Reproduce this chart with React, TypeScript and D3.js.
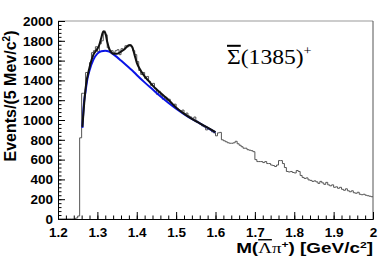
import { useEffect, useRef } from 'react'
import * as d3 from 'd3'

// histogram: 5 MeV bins from 1.200 to 2.000 GeV
const binStart = 1.2
const binWidth = 0.005
const counts = [
  0, 0, 0, 0, 0, 0, 0, 0, 0, // 1.200-1.240
  10, 30, 820, 1270, 1270, 1480, 1480, 1580, 1680, 1700, // 1.245-1.290
  1740, 1690, 1770, 1800, 1900, 1860, 1730, 1690, 1700, 1680, // 1.295-1.340
  1700, 1710, 1660, 1720, 1710, 1750, 1740, 1760, 1740, 1700, // 1.345-1.390
  1660, 1590, 1500, 1460, 1480, 1420, 1440, 1390, 1350, 1370, // 1.395-1.440
  1320, 1260, 1290, 1250, 1210, 1230, 1200, 1210, 1170, 1140, // 1.445-1.490
  1160, 1120, 1100, 1090, 1100, 1060, 1070, 1040, 1030, 1010, // 1.495-1.540
  1030, 990, 975, 965, 940, 930, 900, 910, 900, 880, // 1.545-1.590
  870, 840, 870, 875, 800, 790, 780, 770, 765, 765, // 1.595-1.640
  770, 785, 760, 745, 730, 715, 715, 700, 695, 690, // 1.645-1.690
  680, 600, 580, 580, 580, 570, 580, 560, 560, 545, // 1.695-1.740
  540, 530, 545, 590, 590, 560, 520, 480, 475, 480, // 1.745-1.790
  470, 465, 490, 480, 440, 420, 410, 415, 395, 390, // 1.795-1.840
  380, 385, 375, 360, 380, 365, 350, 370, 345, 335, // 1.845-1.890
  345, 320, 325, 310, 320, 300, 290, 305, 285, 275, // 1.895-1.940
  285, 265, 260, 270, 250, 245, 250, 240, 235, 230, // 1.945-1.990
  225, // 1.995
]

// total fit (black)
const fitMass = [1.262, 1.27, 1.28, 1.29, 1.3, 1.305, 1.31, 1.315, 1.32, 1.325, 1.33, 1.335, 1.34, 1.35, 1.36, 1.37, 1.375, 1.38, 1.385, 1.39, 1.395, 1.4, 1.41, 1.42, 1.43, 1.44, 1.45, 1.46, 1.47, 1.48, 1.49, 1.5, 1.52, 1.54, 1.56, 1.58, 1.6]
const fitVal = [930, 1320, 1530, 1660, 1720, 1760, 1830, 1895, 1880, 1790, 1720, 1685, 1670, 1670, 1690, 1720, 1740, 1755, 1755, 1720, 1650, 1580, 1500, 1440, 1395, 1350, 1310, 1275, 1240, 1205, 1165, 1125, 1065, 1012, 967, 922, 877]

// background (blue)
const bgMass = [1.262, 1.265, 1.27, 1.275, 1.28, 1.29, 1.3, 1.31, 1.32, 1.33, 1.34, 1.35, 1.36, 1.37, 1.38, 1.39, 1.4, 1.42, 1.44, 1.46, 1.48, 1.5, 1.52, 1.54, 1.56, 1.58, 1.6]
const bgVal = [920, 1130, 1290, 1420, 1500, 1610, 1670, 1695, 1700, 1690, 1665, 1635, 1600, 1565, 1530, 1495, 1455, 1380, 1310, 1240, 1175, 1115, 1060, 1010, 965, 920, 875]

const xTicks = [1.2, 1.3, 1.4, 1.5, 1.6, 1.7, 1.8, 1.9, 2.0]
const yTicks = [0, 200, 400, 600, 800, 1000, 1200, 1400, 1600, 1800, 2000]

const W = 390
const H = 265

export default function App() {
  const svgRef = useRef<SVGSVGElement>(null)

  useEffect(() => {
    if (!svgRef.current) return
    const svg = d3.select(svgRef.current)
    svg.selectAll('*').remove()

    const left = 58, right = 373, top = 21, bottom = 219
    const x = d3.scaleLinear().domain([1.2, 2.0]).range([left, right])
    const y = d3.scaleLinear().domain([0, 2000]).range([bottom, top])

    const sans = '"Liberation Sans", Arial, Helvetica, sans-serif'
    const serif = '"Liberation Serif", "Times New Roman", serif'

    // frame (top + right)
    svg.append('line').attr('x1', left).attr('x2', right).attr('y1', top).attr('y2', top)
      .attr('stroke', '#999').attr('stroke-width', 1)
    svg.append('line').attr('x1', right).attr('x2', right).attr('y1', top).attr('y2', bottom)
      .attr('stroke', '#555').attr('stroke-width', 1)

    // histogram as steps
    const steps: [number, number][] = counts.map((c, i) => [binStart + i * binWidth, c])
    steps.push([binStart + counts.length * binWidth, counts[counts.length - 1]])
    const stepLine = d3.line<[number, number]>()
      .x(d => x(d[0]))
      .y(d => y(d[1]))
      .curve(d3.curveStepAfter)
    svg.append('path')
      .attr('d', stepLine(steps))
      .attr('fill', 'none')
      .attr('stroke', '#555')
      .attr('stroke-width', 1)

    const smooth = d3.line<number>()
      .curve(d3.curveMonotoneX)

    // background fit
    svg.append('path')
      .attr('d', smooth.x((d, i) => x(bgMass[i])).y(d => y(d))(bgVal))
      .attr('fill', 'none')
      .attr('stroke', '#0a14e6')
      .attr('stroke-width', 2)

    // total fit
    svg.append('path')
      .attr('d', smooth.x((d, i) => x(fitMass[i])).y(d => y(d))(fitVal))
      .attr('fill', 'none')
      .attr('stroke', '#111')
      .attr('stroke-width', 2)

    // axes
    const xMinor = d3.range(1.2, 2.0001, 0.02)
    const yMinor = d3.range(0, 2000.1, 40)

    svg.append('g').attr('transform', `translate(0,${bottom})`)
      .call(d3.axisBottom(x).tickValues(xMinor).tickSize(-3.5).tickSizeOuter(0).tickFormat(() => ''))
    const gx = svg.append('g').attr('transform', `translate(0,${bottom})`)
      .call(d3.axisBottom(x).tickValues(xTicks).tickSize(-7).tickSizeOuter(0).tickPadding(8)
        .tickFormat(d => (d as number) === 2 ? '2' : d3.format('.1f')(d as number)))
    gx.selectAll('text').attr('font-family', sans).attr('font-weight', 'bold')
      .attr('font-size', 13.5).attr('fill', '#000')

    svg.append('g').attr('transform', `translate(${left},0)`)
      .call(d3.axisLeft(y).tickValues(yMinor).tickSize(-3.5).tickSizeOuter(0).tickFormat(() => ''))
    const gy = svg.append('g').attr('transform', `translate(${left},0)`)
      .call(d3.axisLeft(y).tickValues(yTicks).tickSize(-7).tickSizeOuter(0).tickPadding(5)
        .tickFormat(d3.format('d')))
    gy.selectAll('text').attr('font-family', sans).attr('font-weight', 'bold')
      .attr('font-size', 13.5).attr('fill', '#000')

    svg.selectAll('.domain').attr('stroke', '#000')
    svg.selectAll('.tick line').attr('stroke', '#000')

    // y title
    const yt = svg.append('text')
      .attr('transform', `translate(16,96) rotate(-90)`)
      .attr('text-anchor', 'middle')
      .attr('font-family', sans).attr('font-weight', 'bold').attr('font-size', 16)
    yt.append('tspan').text('Events/(5 Mev/c')
    yt.append('tspan').attr('font-size', 10).attr('dy', -6).text('2')
    yt.append('tspan').attr('dy', 6).text(')')

    // x title (glyphs in the original are wider than tall)
    const xt = svg.append('text')
      .attr('transform', `translate(${right},252.5) scale(1.35,1)`)
      .attr('text-anchor', 'end')
      .attr('font-family', sans).attr('font-weight', 'bold').attr('font-size', 14)
    xt.append('tspan').text('M(')
    xt.append('tspan').attr('font-family', serif).attr('font-weight', 'normal')
      .style('text-decoration', 'overline').text('Λ')
    xt.append('tspan').attr('font-family', serif).attr('font-weight', 'normal').text('π')
    xt.append('tspan').attr('font-size', 9).attr('dy', -5).text('+')
    xt.append('tspan').attr('dy', 5).text(') [GeV/c')
    xt.append('tspan').attr('font-size', 9).attr('dy', -5).text('2')
    xt.append('tspan').attr('dy', 5).text(']')

    // particle label
    const lbl = svg.append('text')
      .attr('transform', 'translate(227,64) scale(1.18,1)')
      .attr('font-family', serif).attr('font-size', 20).attr('fill', '#000')
    lbl.append('tspan').style('text-decoration', 'overline').text('Σ')
    lbl.append('tspan').text('(1385)')
    lbl.append('tspan').attr('font-size', 12).attr('dy', -9).text('+')
  }, [])

  return (
    <svg ref={svgRef} width={W} height={H}
      style={{ position: 'absolute', left: 0, top: 0, background: '#fff' }} />
  )
}
